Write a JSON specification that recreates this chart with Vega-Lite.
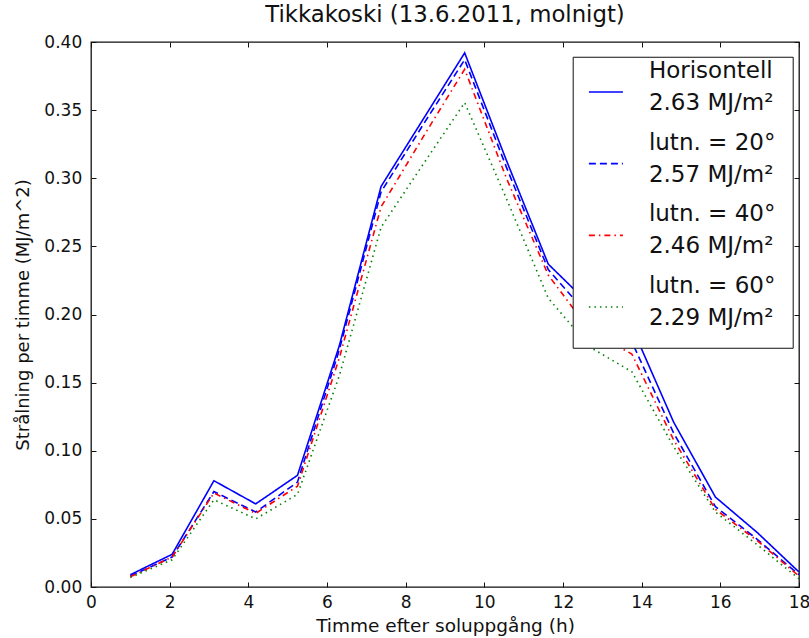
{
  "$schema": "https://vega.github.io/schema/vega-lite/v6.json",
  "width": 708,
  "height": 545,
  "autosize": {"type": "none"},
  "padding": {"left": 91, "top": 42, "right": 10, "bottom": 51},
  "background": "white",
  "config": {
    "font": "DejaVu Sans",
    "view": {"stroke": "#111111", "strokeWidth": 1.3},
    "axis": {
      "domain": false,
      "grid": false,
      "labelFont": "DejaVu Sans",
      "labelFontSize": 17,
      "labelColor": "#111111",
      "tickColor": "#111111",
      "tickSize": -5,
      "tickWidth": 1,
      "titleFont": "DejaVu Sans",
      "titleFontSize": 18.5,
      "titleFontWeight": "normal",
      "titleColor": "#111111",
      "labelFlush": false,
      "labelOverlap": false
    }
  },
  "title": {
    "text": "Tikkakoski (13.6.2011, molnigt)",
    "font": "DejaVu Sans",
    "fontSize": 22.8,
    "fontWeight": "normal",
    "color": "#111111",
    "anchor": "middle",
    "offset": 6
  },
  "data": {
    "values": [
      {"hour": 1, "series": "Horisontell|2.63 MJ/m²", "value": 0.009},
      {"hour": 2.0625, "series": "Horisontell|2.63 MJ/m²", "value": 0.024},
      {"hour": 3.125, "series": "Horisontell|2.63 MJ/m²", "value": 0.078},
      {"hour": 4.1875, "series": "Horisontell|2.63 MJ/m²", "value": 0.061},
      {"hour": 5.25, "series": "Horisontell|2.63 MJ/m²", "value": 0.082},
      {"hour": 6.3125, "series": "Horisontell|2.63 MJ/m²", "value": 0.177},
      {"hour": 7.375, "series": "Horisontell|2.63 MJ/m²", "value": 0.294},
      {"hour": 8.4375, "series": "Horisontell|2.63 MJ/m²", "value": 0.343},
      {"hour": 9.5, "series": "Horisontell|2.63 MJ/m²", "value": 0.392},
      {"hour": 10.5625, "series": "Horisontell|2.63 MJ/m²", "value": 0.313},
      {"hour": 11.625, "series": "Horisontell|2.63 MJ/m²", "value": 0.237},
      {"hour": 12.6875, "series": "Horisontell|2.63 MJ/m²", "value": 0.207},
      {"hour": 13.75, "series": "Horisontell|2.63 MJ/m²", "value": 0.191},
      {"hour": 14.8125, "series": "Horisontell|2.63 MJ/m²", "value": 0.121},
      {"hour": 15.875, "series": "Horisontell|2.63 MJ/m²", "value": 0.066},
      {"hour": 16.9375, "series": "Horisontell|2.63 MJ/m²", "value": 0.040},
      {"hour": 18, "series": "Horisontell|2.63 MJ/m²", "value": 0.011},

      {"hour": 1, "series": "lutn. = 20°|2.57 MJ/m²", "value": 0.008},
      {"hour": 2.0625, "series": "lutn. = 20°|2.57 MJ/m²", "value": 0.022},
      {"hour": 3.125, "series": "lutn. = 20°|2.57 MJ/m²", "value": 0.070},
      {"hour": 4.1875, "series": "lutn. = 20°|2.57 MJ/m²", "value": 0.055},
      {"hour": 5.25, "series": "lutn. = 20°|2.57 MJ/m²", "value": 0.077},
      {"hour": 6.3125, "series": "lutn. = 20°|2.57 MJ/m²", "value": 0.174},
      {"hour": 7.375, "series": "lutn. = 20°|2.57 MJ/m²", "value": 0.290},
      {"hour": 8.4375, "series": "lutn. = 20°|2.57 MJ/m²", "value": 0.339},
      {"hour": 9.5, "series": "lutn. = 20°|2.57 MJ/m²", "value": 0.387},
      {"hour": 10.5625, "series": "lutn. = 20°|2.57 MJ/m²", "value": 0.308},
      {"hour": 11.625, "series": "lutn. = 20°|2.57 MJ/m²", "value": 0.233},
      {"hour": 12.6875, "series": "lutn. = 20°|2.57 MJ/m²", "value": 0.198},
      {"hour": 13.75, "series": "lutn. = 20°|2.57 MJ/m²", "value": 0.180},
      {"hour": 14.8125, "series": "lutn. = 20°|2.57 MJ/m²", "value": 0.113},
      {"hour": 15.875, "series": "lutn. = 20°|2.57 MJ/m²", "value": 0.059},
      {"hour": 16.9375, "series": "lutn. = 20°|2.57 MJ/m²", "value": 0.035},
      {"hour": 18, "series": "lutn. = 20°|2.57 MJ/m²", "value": 0.009},

      {"hour": 1, "series": "lutn. = 40°|2.46 MJ/m²", "value": 0.0075},
      {"hour": 2.0625, "series": "lutn. = 40°|2.46 MJ/m²", "value": 0.022},
      {"hour": 3.125, "series": "lutn. = 40°|2.46 MJ/m²", "value": 0.069},
      {"hour": 4.1875, "series": "lutn. = 40°|2.46 MJ/m²", "value": 0.054},
      {"hour": 5.25, "series": "lutn. = 40°|2.46 MJ/m²", "value": 0.074},
      {"hour": 6.3125, "series": "lutn. = 40°|2.46 MJ/m²", "value": 0.168},
      {"hour": 7.375, "series": "lutn. = 40°|2.46 MJ/m²", "value": 0.279},
      {"hour": 8.4375, "series": "lutn. = 40°|2.46 MJ/m²", "value": 0.330},
      {"hour": 9.5, "series": "lutn. = 40°|2.46 MJ/m²", "value": 0.380},
      {"hour": 10.5625, "series": "lutn. = 40°|2.46 MJ/m²", "value": 0.300},
      {"hour": 11.625, "series": "lutn. = 40°|2.46 MJ/m²", "value": 0.229},
      {"hour": 12.6875, "series": "lutn. = 40°|2.46 MJ/m²", "value": 0.188},
      {"hour": 13.75, "series": "lutn. = 40°|2.46 MJ/m²", "value": 0.171},
      {"hour": 14.8125, "series": "lutn. = 40°|2.46 MJ/m²", "value": 0.108},
      {"hour": 15.875, "series": "lutn. = 40°|2.46 MJ/m²", "value": 0.057},
      {"hour": 16.9375, "series": "lutn. = 40°|2.46 MJ/m²", "value": 0.034},
      {"hour": 18, "series": "lutn. = 40°|2.46 MJ/m²", "value": 0.008},

      {"hour": 1, "series": "lutn. = 60°|2.29 MJ/m²", "value": 0.007},
      {"hour": 2.0625, "series": "lutn. = 60°|2.29 MJ/m²", "value": 0.020},
      {"hour": 3.125, "series": "lutn. = 60°|2.29 MJ/m²", "value": 0.064},
      {"hour": 4.1875, "series": "lutn. = 60°|2.29 MJ/m²", "value": 0.050},
      {"hour": 5.25, "series": "lutn. = 60°|2.29 MJ/m²", "value": 0.068},
      {"hour": 6.3125, "series": "lutn. = 60°|2.29 MJ/m²", "value": 0.155},
      {"hour": 7.375, "series": "lutn. = 60°|2.29 MJ/m²", "value": 0.264},
      {"hour": 8.4375, "series": "lutn. = 60°|2.29 MJ/m²", "value": 0.310},
      {"hour": 9.5, "series": "lutn. = 60°|2.29 MJ/m²", "value": 0.3555},
      {"hour": 10.5625, "series": "lutn. = 60°|2.29 MJ/m²", "value": 0.285},
      {"hour": 11.625, "series": "lutn. = 60°|2.29 MJ/m²", "value": 0.212},
      {"hour": 12.6875, "series": "lutn. = 60°|2.29 MJ/m²", "value": 0.176},
      {"hour": 13.75, "series": "lutn. = 60°|2.29 MJ/m²", "value": 0.158},
      {"hour": 14.8125, "series": "lutn. = 60°|2.29 MJ/m²", "value": 0.103},
      {"hour": 15.875, "series": "lutn. = 60°|2.29 MJ/m²", "value": 0.055},
      {"hour": 16.9375, "series": "lutn. = 60°|2.29 MJ/m²", "value": 0.031},
      {"hour": 18, "series": "lutn. = 60°|2.29 MJ/m²", "value": 0.006}
    ]
  },
  "resolve": {"axis": {"x": "independent", "y": "independent"}},
  "layer": [
    {
      "mark": {"type": "line", "strokeWidth": 1.6},
      "encoding": {
        "x": {
          "field": "hour",
          "type": "quantitative",
          "scale": {"domain": [0, 18], "nice": false, "zero": false},
          "axis": {
            "orient": "bottom",
            "values": [0, 2, 4, 6, 8, 10, 12, 14, 16, 18],
            "format": "d",
            "labelPadding": 12.6,
            "title": "Timme efter soluppgång (h)",
            "titleBaseline": "alphabetic",
            "titleY": 44
          }
        },
        "y": {
          "field": "value",
          "type": "quantitative",
          "scale": {"domain": [0, 0.4], "nice": false},
          "axis": {
            "orient": "left",
            "values": [0, 0.05, 0.1, 0.15, 0.2, 0.25, 0.3, 0.35, 0.4],
            "format": ".2f",
            "labelPadding": 14.3,
            "title": "Strålning per timme (MJ/m^2)",
            "titleFontSize": 18,
            "titleBaseline": "alphabetic",
            "titleAngle": -90,
            "titleX": -62.7,
            "titleY": 272.5
          }
        },
        "color": {
          "field": "series",
          "type": "nominal",
          "scale": {
            "domain": ["Horisontell|2.63 MJ/m²", "lutn. = 20°|2.57 MJ/m²", "lutn. = 40°|2.46 MJ/m²", "lutn. = 60°|2.29 MJ/m²"],
            "range": ["#0000ff", "#0000ff", "#ff0000", "#008000"]
          },
          "legend": {
            "orient": "none",
            "legendX": 481.7,
            "legendY": 14.75,
            "title": null,
            "labelExpr": "split(datum.label, '|')",
            "labelFont": "DejaVu Sans",
            "labelFontSize": 23,
            "labelColor": "#111111",
            "labelBaseline": "middle",
            "labelOffset": 25,
            "labelLimit": 300,
            "symbolType": "stroke",
            "symbolSize": 1156,
            "symbolStrokeWidth": 1.6,
            "symbolOffset": -2,
            "padding": 17.2,
            "rowPadding": 16.7,
            "strokeColor": "#111111",
            "fillColor": "white",
            "cornerRadius": 0,
            "encode": {"labels": {"update": {"lineHeight": {"value": 32}, "dy": {"value": -21}}}}
          }
        },
        "strokeDash": {
          "field": "series",
          "type": "nominal",
          "scale": {
            "domain": ["Horisontell|2.63 MJ/m²", "lutn. = 20°|2.57 MJ/m²", "lutn. = 40°|2.46 MJ/m²", "lutn. = 60°|2.29 MJ/m²"],
            "range": [[1, 0], [7, 4], [6, 4, 1.5, 4], [1.5, 4]]
          }
        }
      }
    },
    {
      "mark": {"type": "point", "opacity": 0},
      "encoding": {
        "x": {
          "field": "hour",
          "type": "quantitative",
          "scale": {"domain": [0, 18], "nice": false, "zero": false},
          "axis": {"orient": "top", "values": [0, 2, 4, 6, 8, 10, 12, 14, 16, 18], "labels": false, "title": null}
        },
        "y": {
          "field": "value",
          "type": "quantitative",
          "scale": {"domain": [0, 0.4], "nice": false},
          "axis": {"orient": "right", "values": [0, 0.05, 0.1, 0.15, 0.2, 0.25, 0.3, 0.35, 0.4], "labels": false, "title": null}
        }
      }
    }
  ]
}
